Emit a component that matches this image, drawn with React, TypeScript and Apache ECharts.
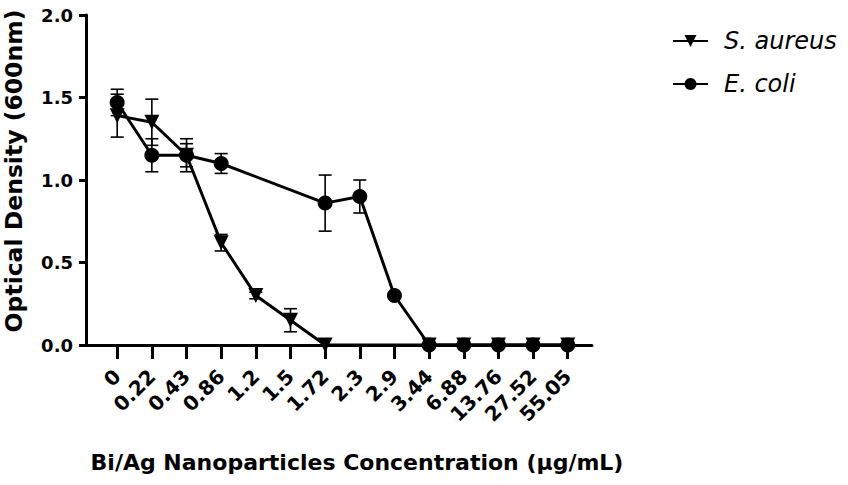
import React, { useEffect, useRef } from "react";
import * as echarts from "echarts";

const concentrations = ["0", "0.22", "0.43", "0.86", "1.2", "1.5", "1.72", "2.3", "2.9", "3.44", "6.88", "13.76", "27.52", "55.05"];
const sAureus: (number | null)[] = [1.39, 1.35, 1.15, 0.62, 0.30, 0.15, 0, null, null, 0, 0, 0, 0, 0];
const sAureusErr: (number | null)[] = [0.13, 0.14, 0.07, 0.05, 0.02, 0.07, null, null, null, null, null, null, null, null];
const eColi: (number | null)[] = [1.47, 1.15, 1.15, 1.10, null, null, 0.86, 0.90, 0.30, 0, 0, 0, 0, 0];
const eColiErr: (number | null)[] = [0.08, 0.10, 0.10, 0.06, null, null, 0.17, 0.10, null, null, null, null, null, null];
const yTicks = [0, 0.5, 1.0, 1.5, 2.0];

const FONT = '"DejaVu Sans", "Liberation Sans", Arial, sans-serif';

function points(vals: (number | null)[]) {
  const out: number[][] = [];
  vals.forEach((v, i) => {
    if (v !== null) out.push([i, v]);
  });
  return out;
}

function errs(vals: (number | null)[], e: (number | null)[]) {
  const out: number[][] = [];
  vals.forEach((v, i) => {
    const d = e[i];
    if (v !== null && d !== null && d !== undefined) out.push([i, v - d, v + d]);
  });
  return out;
}

const renderErr = (params: any, api: any) => {
  const x = api.value(0);
  const lo = api.coord([x, api.value(1)]);
  const hi = api.coord([x, api.value(2)]);
  const cap = 6.5;
  const style = { stroke: "#000", lineWidth: 1.6 };
  return {
    type: "group",
    children: [
      { type: "line", shape: { x1: lo[0], y1: lo[1], x2: hi[0], y2: hi[1] }, style },
      { type: "line", shape: { x1: lo[0] - cap, y1: lo[1], x2: lo[0] + cap, y2: lo[1] }, style },
      { type: "line", shape: { x1: hi[0] - cap, y1: hi[1], x2: hi[0] + cap, y2: hi[1] }, style },
    ],
  };
};

export default function App() {
  const ref = useRef<HTMLDivElement>(null);
  useEffect(() => {
    if (!ref.current) return;
    const chart = echarts.init(ref.current, null, { renderer: "svg" });
    const idx = concentrations.map((_, i) => i);
    chart.setOption({
      animation: false,
      backgroundColor: "#fff",
      grid: { left: 86, top: 15, right: 256, bottom: 140, containLabel: false, outerBoundsMode: "none" },
      legend: {
        orient: "vertical",
        left: 667,
        top: 24,
        itemWidth: 35,
        itemHeight: 15,
        itemGap: 19,
        data: ["S. aureus", "E. coli"],
        textStyle: { fontFamily: FONT, fontStyle: "italic", fontSize: 24, color: "#000", padding: [0, 0, 0, 11] },
      },
      xAxis: {
        type: "value",
        min: -0.9,
        max: 13.7,
        name: "Bi/Ag Nanoparticles Concentration (\u03bcg/mL)",
        nameLocation: "middle",
        nameGap: 106,
        nameTruncate: { maxWidth: 800 },
        nameTextStyle: { fontFamily: FONT, fontWeight: "bold", fontSize: 22, color: "#000", padding: [0, 0, 0, 36] },
        axisLine: { onZero: false, lineStyle: { color: "#000", width: 3 } },
        axisTick: { customValues: idx, length: 14, lineStyle: { color: "#000", width: 3 } },
        axisLabel: {
          customValues: idx,
          rotate: 45,
          margin: 28,
          fontFamily: FONT,
          fontWeight: "bold",
          fontSize: 20,
          color: "#000",
          formatter: (v: number) => concentrations[Math.round(v)] ?? "",
        },
        splitLine: { show: false },
      },
      yAxis: {
        type: "value",
        min: 0,
        max: 2,
        interval: 0.5,
        name: "Optical Density (600nm)",
        nameLocation: "middle",
        nameGap: 60,
        nameTruncate: { maxWidth: 800 },
        nameTextStyle: { fontFamily: FONT, fontWeight: "bold", fontSize: 23.5, color: "#000", padding: [0, 0, 0, 18] },
        axisLine: { show: true, onZero: false, lineStyle: { color: "#000", width: 3 } },
        axisTick: { show: true, length: 7, lineStyle: { color: "#000", width: 3 } },
        axisLabel: {
          margin: 13,
          fontFamily: FONT,
          fontWeight: "bold",
          fontSize: 18,
          color: "#000",
          customValues: yTicks,
          formatter: (v: number) => v.toFixed(1),
        },
        splitLine: { show: false },
      },
      series: [
        {
          name: "S. aureus",
          type: "line",
          data: points(sAureus),
          symbol: "triangle",
          symbolRotate: 180,
          symbolSize: 15,
          itemStyle: { color: "#000" },
          lineStyle: { color: "#000", width: 3 },
          z: 3,
        },
        {
          name: "E. coli",
          type: "line",
          data: points(eColi),
          symbol: "circle",
          symbolSize: 15,
          itemStyle: { color: "#000" },
          lineStyle: { color: "#000", width: 3 },
          z: 3,
        },
        {
          type: "custom",
          data: errs(sAureus, sAureusErr),
          renderItem: renderErr,
          encode: { x: 0, y: [1, 2] },
          z: 2,
          silent: true,
        },
        {
          type: "custom",
          data: errs(eColi, eColiErr),
          renderItem: renderErr,
          encode: { x: 0, y: [1, 2] },
          z: 2,
          silent: true,
        },
      ],
    });
    return () => chart.dispose();
  }, []);
  return <div ref={ref} style={{ position: "fixed", left: 0, top: 0, width: 848, height: 485 }} />;
}
